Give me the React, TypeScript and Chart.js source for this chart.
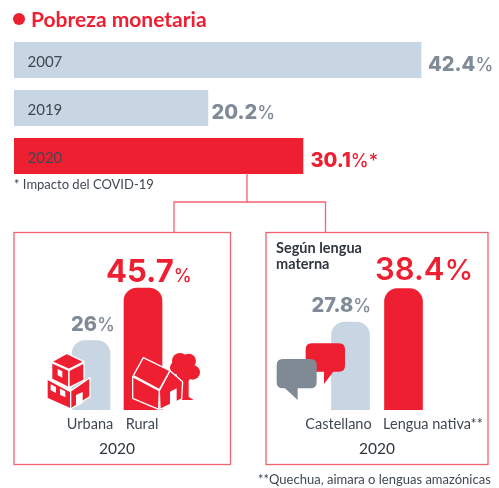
import React, { useEffect, useRef } from "react";
import { Chart, registerables } from "chart.js";

Chart.register(...registerables);

const RED = "#EE1F31";
const BLUE = "#C8D5E2";
const GREY = "#7F8B97";
const LINE = "#F3636F";
const INK = "#3F4852";
const FONT = "Lato, 'Noto Sans', sans-serif";
const HEAVY = "Inter, Lato, sans-serif";

const YEARS = ["2007", "2019", "2020"];
const POVERTY = [42.4, 20.2, 30.1];
const POVERTY_NUM = ["42.4", "20.2", "30.1"];
const POVERTY_UNIT = ["%", "%", "%*"];

const AREA = ["Urbana", "Rural"];
const AREA_VALUES = [26, 45.7];
const AREA_NUM = ["26", "45.7"];

const TONGUE = ["Castellano", "Lengua nativa**"];
const TONGUE_VALUES = [27.8, 38.4];
const TONGUE_NUM = ["27.8", "38.4"];

type Part = { num: string; unit: string; numFont: string; unitFont: string; color: string; dx: number; dy: number };

const valueLabels = (parts: Part[]) => ({
  id: "valueLabels",
  afterDatasetsDraw(chart: any) {
    const ctx = chart.ctx;
    const bars = chart.getDatasetMeta(0).data;
    bars.forEach((bar: any, i: number) => {
      const p = parts[i];
      const x = bar.x + p.dx;
      const y = bar.y + p.dy;
      ctx.save();
      ctx.textBaseline = "alphabetic";
      ctx.textAlign = "left";
      ctx.fillStyle = p.color;
      ctx.font = p.numFont;
      ctx.fillText(p.num, x, y);
      const w = ctx.measureText(p.num).width;
      ctx.font = p.unitFont;
      ctx.fillText(p.unit, x + w, y);
      ctx.restore();
    });
  },
});

const shiftedLabels = (names: string[], shifts: number[]) => ({
  id: "shiftedLabels",
  afterDraw(chart: any) {
    const ctx = chart.ctx;
    const sx = chart.scales.x;
    ctx.save();
    ctx.font = `14.5px ${FONT}`;
    ctx.fillStyle = INK;
    ctx.textAlign = "center";
    ctx.textBaseline = "middle";
    names.forEach((n, i) => ctx.fillText(n, sx.getPixelForValue(i) + shifts[i], chart.chartArea.bottom + 14));
    ctx.restore();
  },
});

const columnChart = (
  canvas: HTMLCanvasElement,
  labels: string[],
  values: number[],
  yMax: number,
  padLeft: number,
  padRight: number,
  plugins: any[]
) =>
  new Chart(canvas, {
    type: "bar",
    data: {
      labels,
      datasets: [
        {
          data: values,
          backgroundColor: [BLUE, RED],
          borderRadius: { topLeft: 13, topRight: 13, bottomLeft: 0, bottomRight: 0 },
          borderSkipped: false,
          barThickness: 38,
        },
      ],
    },
    options: {
      animation: false,
      responsive: false,
      layout: { padding: { left: padLeft, right: padRight, top: 0, bottom: 0 } },
      plugins: { legend: { display: false }, tooltip: { enabled: false } },
      scales: {
        x: {
          grid: { display: false },
          border: { display: false },
          ticks: { display: false },
          afterFit: (s: any) => {
            s.height = 54;
          },
          title: {
            display: true,
            text: "2020",
            color: "#2F363D",
            font: { family: FONT, size: 15.5 },
            padding: { top: 0, bottom: 6 },
          },
        },
        y: { display: false, min: 0, max: yMax },
      },
    },
    plugins,
  } as any);

const Icons = () => (
  <svg width={499} height={488} style={{ position: "absolute", left: 0, top: 0 }}>
    <g fill="none" stroke={LINE} strokeWidth={1.3}>
      <rect x={14} y={232.5} width={216.5} height={232} />
      <rect x={266} y={232.5} width={222} height={232} />
      <polyline points="247,173 247,202 174,202 174,232" />
      <polyline points="247,202 325.5,202 325.5,232" />
    </g>
    <g transform="translate(0,225) scale(0.3333)" stroke="#fff" strokeWidth={4} strokeLinejoin="round">
      <g fill={RED}>
        <polygon points="155,410 200,385 252,410 207,433" />
        <polygon points="155,413 207,436 207,488 155,462" />
        <polygon points="207,436 252,414 252,465 207,488" />
        <polygon points="141,462 212,500 212,552 141,520" />
        <polygon points="212,498 270,458 270,515 212,552" />
      </g>
      <g fill="#fff" stroke="none">
        <polygon points="173,432 187,439 187,458 173,451" />
        <polygon points="152,478 168,486 168,504 152,496" />
        <polygon points="180,491 196,499 196,517 180,509" />
        <polygon points="228,510 248,501 248,535 228,545" />
      </g>
      <g fill={RED} stroke="none">
        <circle cx={540} cy={408} r={24} />
        <circle cx={566} cy={408} r={22} />
        <circle cx={578} cy={442} r={22} />
        <circle cx={530} cy={428} r={20} />
        <circle cx={555} cy={442} r={26} />
        <polygon points="545,460 566,460 566,515 581,525 545,525" />
      </g>
      <g fill={RED}>
        <polygon points="478,497 510,437 548,470 545,522 480,553" />
        <polygon points="400,452 430,398 510,437 478,494" />
        <polygon points="398,455 478,497 476,553 398,520" />
      </g>
      <polygon points="510,500 530,490 530,530 510,540" fill="#fff" stroke="none" />
    </g>
    <g transform="translate(250,225) scale(0.3333)">
      <path
        d="M185,355 H267 Q285,355 285,373 V422 Q285,440 267,440 H250 L222,477 V440 H185 Q167,440 167,422 V373 Q167,355 185,355 Z"
        fill={RED}
      />
      <path
        d="M98,402 H182 Q200,402 200,420 V472 Q200,490 182,490 H143 V525 L105,490 H98 Q80,490 80,472 V420 Q80,402 98,402 Z"
        fill="#808A94"
      />
    </g>
  </svg>
);

const text = (left: number, top: number, style: React.CSSProperties = {}): React.CSSProperties => ({
  position: "absolute",
  left,
  top,
  whiteSpace: "nowrap",
  fontFamily: FONT,
  color: INK,
  ...style,
});

export default function App() {
  const barsRef = useRef<HTMLCanvasElement>(null);
  const areaRef = useRef<HTMLCanvasElement>(null);
  const tongueRef = useRef<HTMLCanvasElement>(null);

  useEffect(() => {
    const bars = new Chart(barsRef.current!, {
      type: "bar",
      data: {
        labels: YEARS,
        datasets: [
          {
            data: POVERTY,
            backgroundColor: [BLUE, BLUE, RED],
            barThickness: 35.5,
          },
        ],
      },
      options: {
        indexAxis: "y",
        animation: false,
        responsive: false,
        layout: { padding: 0 },
        plugins: { legend: { display: false }, tooltip: { enabled: false } },
        scales: {
          x: { display: false, min: 0, max: 50 },
          y: {
            grid: { display: false },
            border: { display: false },
            afterFit: (s: any) => {
              s.width = 0;
              s.paddingTop = 0;
              s.paddingBottom = 0;
              s.paddingLeft = 0;
              s.paddingRight = 0;
            },
            ticks: {
              mirror: true,
              z: 1,
              padding: 13.5,
              labelOffset: 2,
              color: INK,
              font: { family: FONT, size: 15 },
            },
          },
        },
      },
      plugins: [
        valueLabels(
          POVERTY_NUM.map((num, i) => ({
            num,
            unit: POVERTY_UNIT[i],
            numFont: `800 20px ${HEAVY}`,
            unitFont: `500 18px ${HEAVY}`,
            color: i === 2 ? RED : GREY,
            dx: [7, 3.5, 7.5][i],
            dy: 10.5,
          }))
        ),
      ],
    } as any);

    const area = columnChart(areaRef.current!, AREA, AREA_VALUES, 66, 51, 61, [
      valueLabels([
        { num: AREA_NUM[0], unit: "%", numFont: `800 20px ${HEAVY}`, unitFont: `500 18px ${HEAVY}`, color: GREY, dx: -20, dy: -10 },
        { num: AREA_NUM[1], unit: "%", numFont: `700 31px ${HEAVY}`, unitFont: `500 18px ${HEAVY}`, color: RED, dx: -37, dy: -6.5 },
      ]),
      shiftedLabels(AREA, [-1, -1]),
    ]);

    const tongue = columnChart(tongueRef.current!, TONGUE, TONGUE_VALUES, 55.7, 58, 58, [
      valueLabels([
        { num: TONGUE_NUM[0], unit: "%", numFont: `800 20px ${HEAVY}`, unitFont: `500 18px ${HEAVY}`, color: GREY, dx: -39, dy: -10 },
        { num: TONGUE_NUM[1], unit: "%", numFont: `600 31px ${HEAVY}`, unitFont: `500 29px ${HEAVY}`, color: RED, dx: -28.5, dy: -9 },
      ]),
      shiftedLabels(TONGUE, [-12, 29.5]),
    ]);

    return () => {
      bars.destroy();
      area.destroy();
      tongue.destroy();
    };
  }, []);

  return (
    <div style={{ position: "absolute", left: 0, top: 0, width: 499, height: 488, overflow: "hidden", background: "#fff" }}>
      <canvas ref={barsRef} width={480} height={144} style={{ position: "absolute", left: 14, top: 36, display: "block" }} />
      <canvas ref={areaRef} width={216} height={230} style={{ position: "absolute", left: 14, top: 234, display: "block" }} />
      <canvas ref={tongueRef} width={222} height={230} style={{ position: "absolute", left: 266, top: 234, display: "block" }} />
      <Icons />
      <div style={{ position: "absolute", left: 12.5, top: 13, width: 12, height: 12, borderRadius: 6, background: RED }} />
      <div style={text(31, 7, { fontSize: 21, fontWeight: 700, color: RED, lineHeight: "24px" })}>Pobreza monetaria</div>
      <div style={text(14, 176, { fontSize: 13, lineHeight: "16px" })}>* Impacto del COVID-19</div>
      <div style={text(276, 240, { fontSize: 14.5, fontWeight: 700, lineHeight: "16px", color: "#2F363D" })}>
        Según lengua
        <br />
        materna
      </div>
      <div style={text(258, 471, { fontSize: 13, lineHeight: "16px" })}>**Quechua, aimara o lenguas amazónicas</div>
    </div>
  );
}
